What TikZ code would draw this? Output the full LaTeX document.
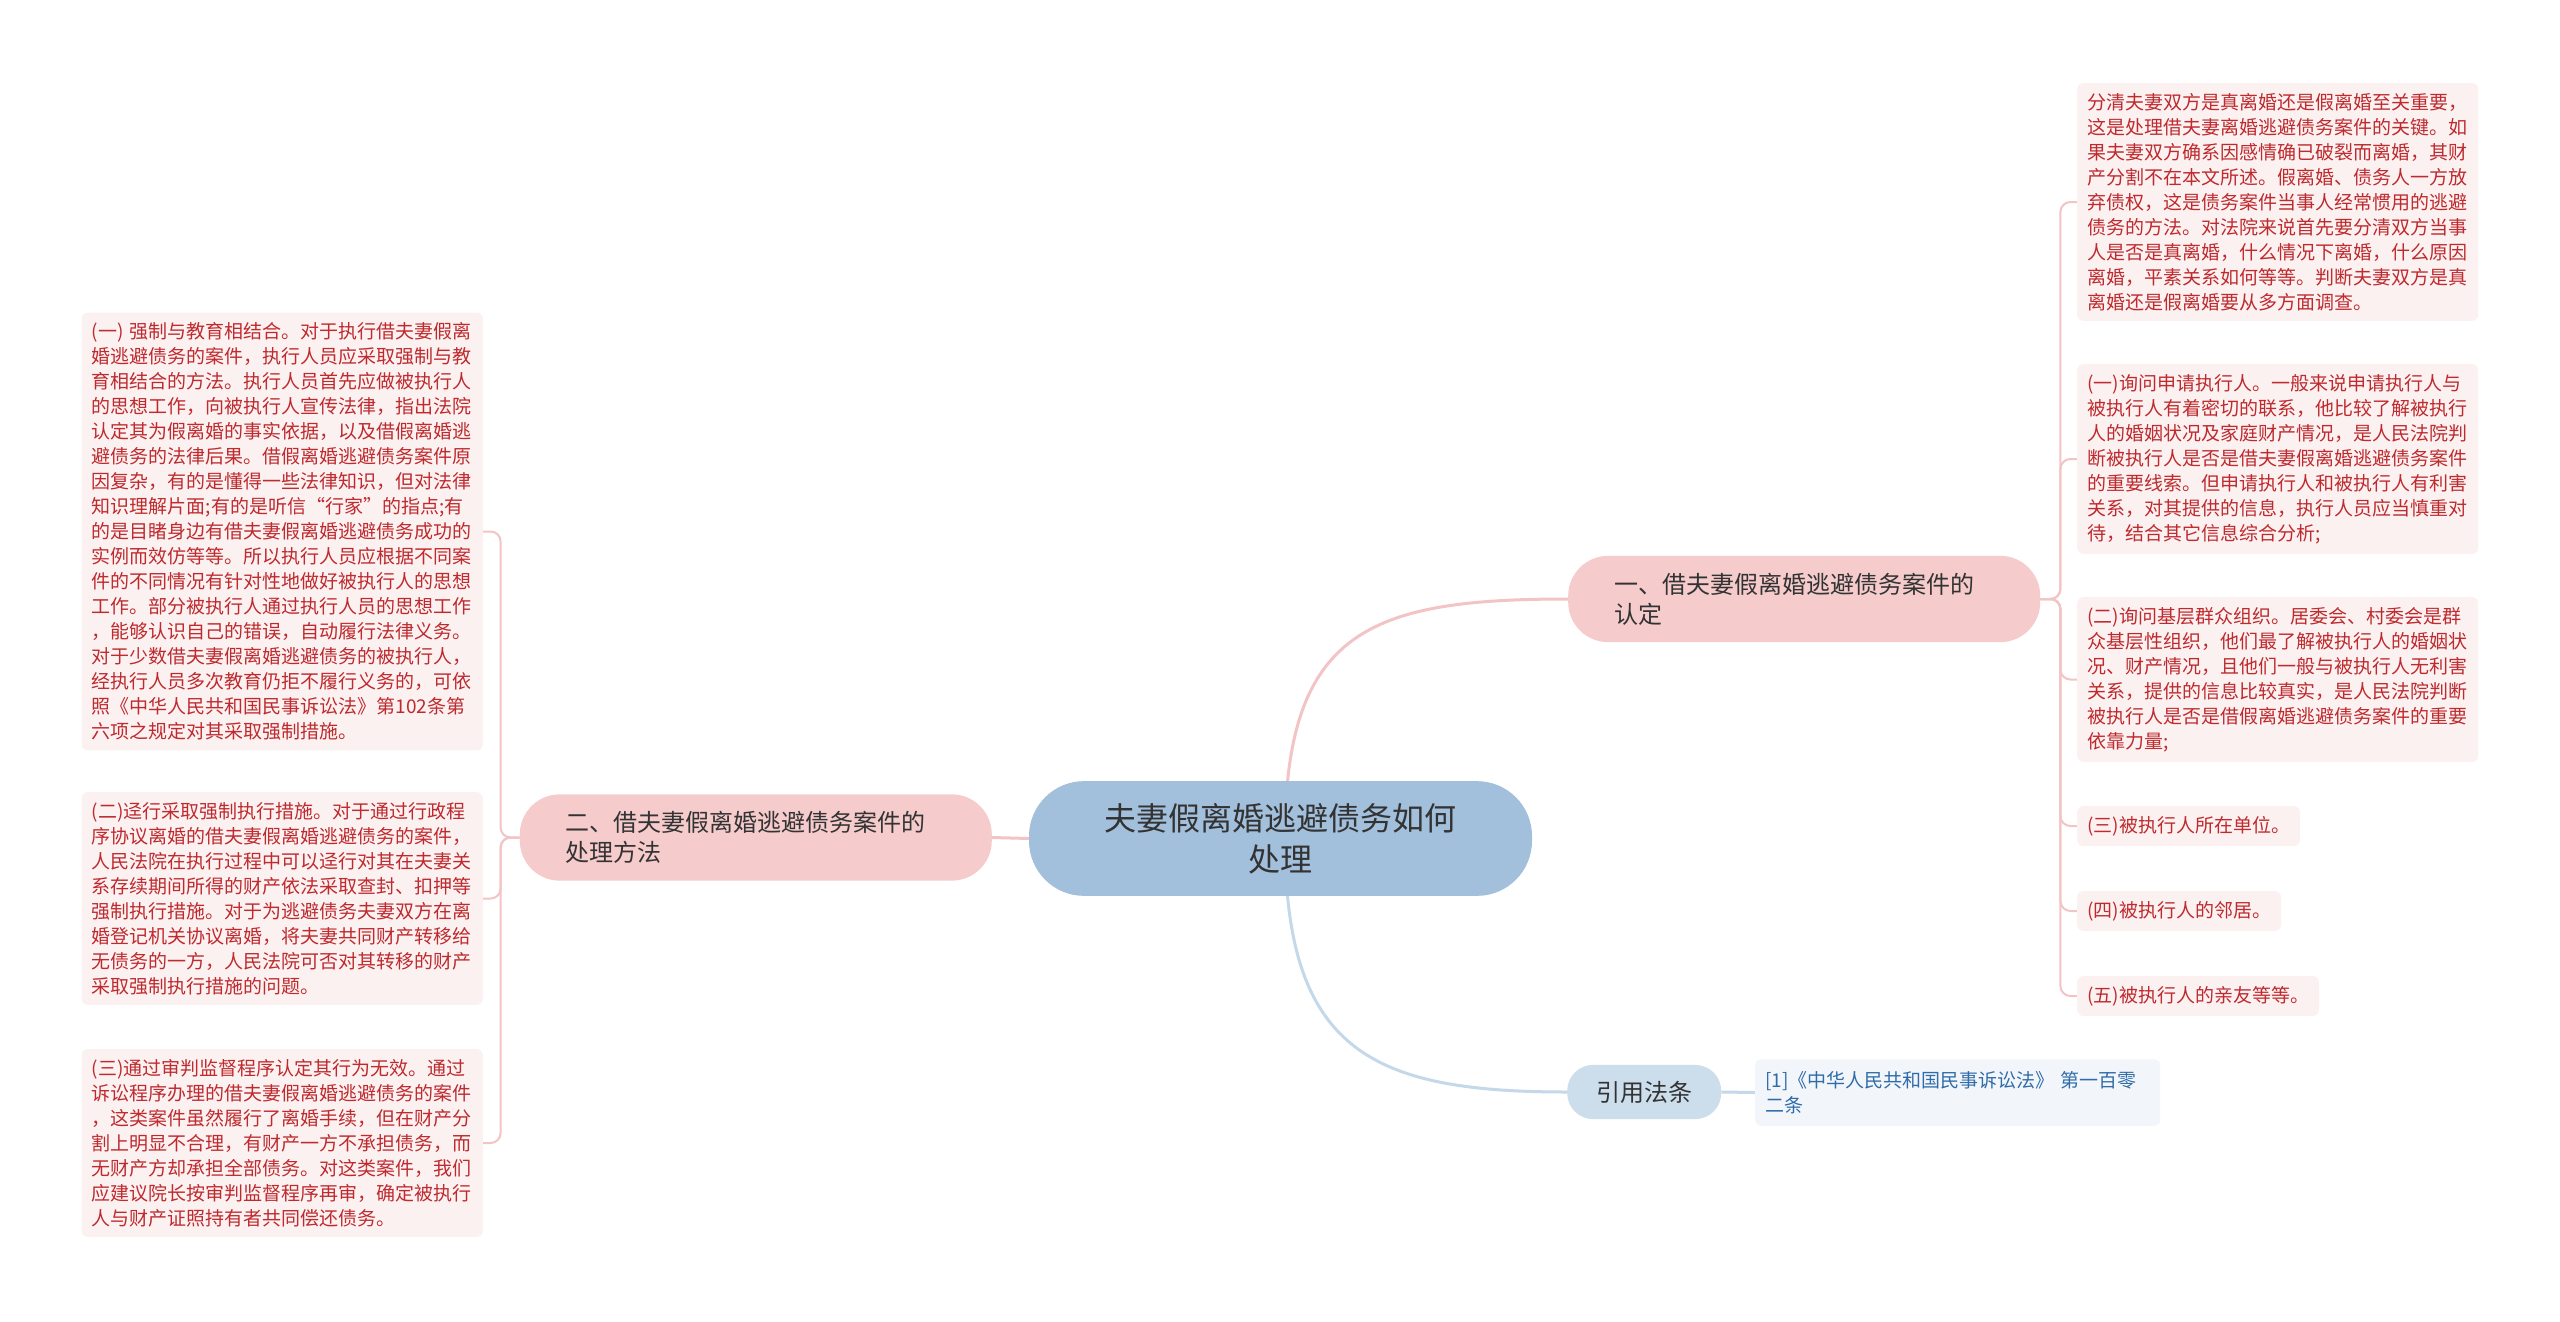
\documentclass[tikz,border=0pt]{standalone}
\usepackage{fontspec}
\setmainfont{Noto Sans CJK SC}
\usetikzlibrary{backgrounds}
\definecolor{leaffill}{HTML}{FCF1F1}
\definecolor{leaftext}{HTML}{BE2A2E}
\definecolor{topicfill}{HTML}{F5CBCC}
\definecolor{centerfill}{HTML}{A2BFDB}
\definecolor{reffill}{HTML}{CCDDEC}
\definecolor{citefill}{HTML}{F2F6FB}
\definecolor{citetext}{HTML}{2F6CA8}
\definecolor{darktext}{HTML}{333333}
\definecolor{pinkline}{HTML}{F2C4C5}
\definecolor{blueline}{HTML}{C4D8EA}
\tikzset{
  leaf/.style={fill=leaffill, rounded corners=6pt, text=leaftext,
    font=\fontsize{19pt}{25pt}\selectfont, inner xsep=10pt, inner ysep=10pt, align=left},
  wideleaf/.style={leaf, text width=381pt},
  topic/.style={fill=topicfill, rounded corners=40pt, text=darktext,
    font=\fontsize{24pt}{30pt}\selectfont, text width=380pt, align=left,
    inner xsep=46pt, inner ysep=17pt},
  centre/.style={fill=centerfill, rounded corners=55pt, text=darktext,
    font=\fontsize{32pt}{41pt}\selectfont, text width=353pt, align=center,
    inner xsep=75pt, inner ysep=22pt},
  refnode/.style={fill=reffill, rounded corners=26pt, text=darktext,
    font=\fontsize{24pt}{30pt}\selectfont, inner xsep=29pt, inner ysep=16pt},
  citebox/.style={fill=citefill, rounded corners=6pt, text=citetext,
    font=\fontsize{19pt}{25pt}\selectfont, text width=385pt, align=left,
    inner xsep=10pt, inner ysep=12pt},
  mainpink/.style={draw=pinkline, line width=3pt},
  mainblue/.style={draw=blueline, line width=3pt},
  leafline/.style={draw=pinkline, line width=2pt, rounded corners=10pt},
}
\begin{document}
\begin{tikzpicture}[x=1pt,y=-1pt]
\useasboundingbox (0,0) rectangle (2560,1322);

% central and topic nodes
\node[centre] (c) at (1280.5,838.5) {夫妻假离婚逃避债务如何\\处理};
\node[topic, anchor=west] (n1) at (1568,599) {一、借夫妻假离婚逃避债务案件的\\认定};
\node[topic, anchor=east] (n2) at (992,837.5) {二、借夫妻假离婚逃避债务案件的\\处理方法};
\node[refnode, anchor=west] (ref) at (1567,1092) {引用法条};
\node[citebox, anchor=west] (cite) at (1755,1092.5) {[1]《中华人民共和国民事诉讼法》 第一百零\\二条};

% right leaves
\node[wideleaf, anchor=west] (r1) at (2077,202) {分清夫妻双方是真离婚还是假离婚至关重要，\\这是处理借夫妻离婚逃避债务案件的关键。如\\果夫妻双方确系因感情确已破裂而离婚，其财\\产分割不在本文所述。假离婚、债务人一方放\\弃债权，这是债务案件当事人经常惯用的逃避\\债务的方法。对法院来说首先要分清双方当事\\人是否是真离婚，什么情况下离婚，什么原因\\离婚，平素关系如何等等。判断夫妻双方是真\\离婚还是假离婚要从多方面调查。};
\node[wideleaf, anchor=west] (r2) at (2077,459) {(一)询问申请执行人。一般来说申请执行人与\\被执行人有着密切的联系，他比较了解被执行\\人的婚姻状况及家庭财产情况，是人民法院判\\断被执行人是否是借夫妻假离婚逃避债务案件\\的重要线索。但申请执行人和被执行人有利害\\关系，对其提供的信息，执行人员应当慎重对\\待，结合其它信息综合分析;};
\node[wideleaf, anchor=west] (r3) at (2077,679.5) {(二)询问基层群众组织。居委会、村委会是群\\众基层性组织，他们最了解被执行人的婚姻状\\况、财产情况，且他们一般与被执行人无利害\\关系，提供的信息比较真实，是人民法院判断\\被执行人是否是借假离婚逃避债务案件的重要\\依靠力量;};
\node[leaf, anchor=west] (r4) at (2077,826) {(三)被执行人所在单位。};
\node[leaf, anchor=west] (r5) at (2077,911) {(四)被执行人的邻居。};
\node[leaf, anchor=west] (r6) at (2077,996) {(五)被执行人的亲友等等。};

% left leaves
\node[wideleaf, anchor=east] (l1) at (483,531.5) {(一) 强制与教育相结合。对于执行借夫妻假离\\婚逃避债务的案件，执行人员应采取强制与教\\育相结合的方法。执行人员首先应做被执行人\\的思想工作，向被执行人宣传法律，指出法院\\认定其为假离婚的事实依据，以及借假离婚逃\\避债务的法律后果。借假离婚逃避债务案件原\\因复杂，有的是懂得一些法律知识，但对法律\\知识理解片面;有的是听信“行家”的指点;有\\的是目睹身边有借夫妻假离婚逃避债务成功的\\实例而效仿等等。所以执行人员应根据不同案\\件的不同情况有针对性地做好被执行人的思想\\工作。部分被执行人通过执行人员的思想工作\\，能够认识自己的错误，自动履行法律义务。\\对于少数借夫妻假离婚逃避债务的被执行人，\\经执行人员多次教育仍拒不履行义务的，可依\\照《中华人民共和国民事诉讼法》第102条第\\六项之规定对其采取强制措施。};
\node[wideleaf, anchor=east] (l2) at (483,898.5) {(二)迳行采取强制执行措施。对于通过行政程\\序协议离婚的借夫妻假离婚逃避债务的案件，\\人民法院在执行过程中可以迳行对其在夫妻关\\系存续期间所得的财产依法采取查封、扣押等\\强制执行措施。对于为逃避债务夫妻双方在离\\婚登记机关协议离婚，将夫妻共同财产转移给\\无债务的一方，人民法院可否对其转移的财产\\采取强制执行措施的问题。};
\node[wideleaf, anchor=east] (l3) at (483,1143) {(三)通过审判监督程序认定其行为无效。通过\\诉讼程序办理的借夫妻假离婚逃避债务的案件\\，这类案件虽然履行了离婚手续，但在财产分\\割上明显不合理，有财产一方不承担债务，而\\无财产方却承担全部债务。对这类案件，我们\\应建议院长按审判监督程序再审，确定被执行\\人与财产证照持有者共同偿还债务。};

% connectors
\begin{scope}[on background layer]
\fill[white] (0,0) rectangle (2560,1322);
\coordinate (cs) at ([xshift=4.5pt]c.center);
\draw[mainpink] (cs) .. controls (1285,630) and (1370,599) .. (n1.west);
\draw[mainblue] (cs) .. controls (1285,1050) and (1370,1092) .. (ref.west);
\draw[mainpink] (c.west) -- (n2.east);
\draw[mainblue] (ref.east) -- (cite.west);
\foreach \l in {r1,r2,r3,r4,r5,r6}
  \draw[leafline] (n1.east) -- ++(20,0) |- (\l.west);
\foreach \l in {l1,l2,l3}
  \draw[leafline] (n2.west) -- ++(-19,0) |- (\l.east);
\end{scope}
\end{tikzpicture}
\end{document}
